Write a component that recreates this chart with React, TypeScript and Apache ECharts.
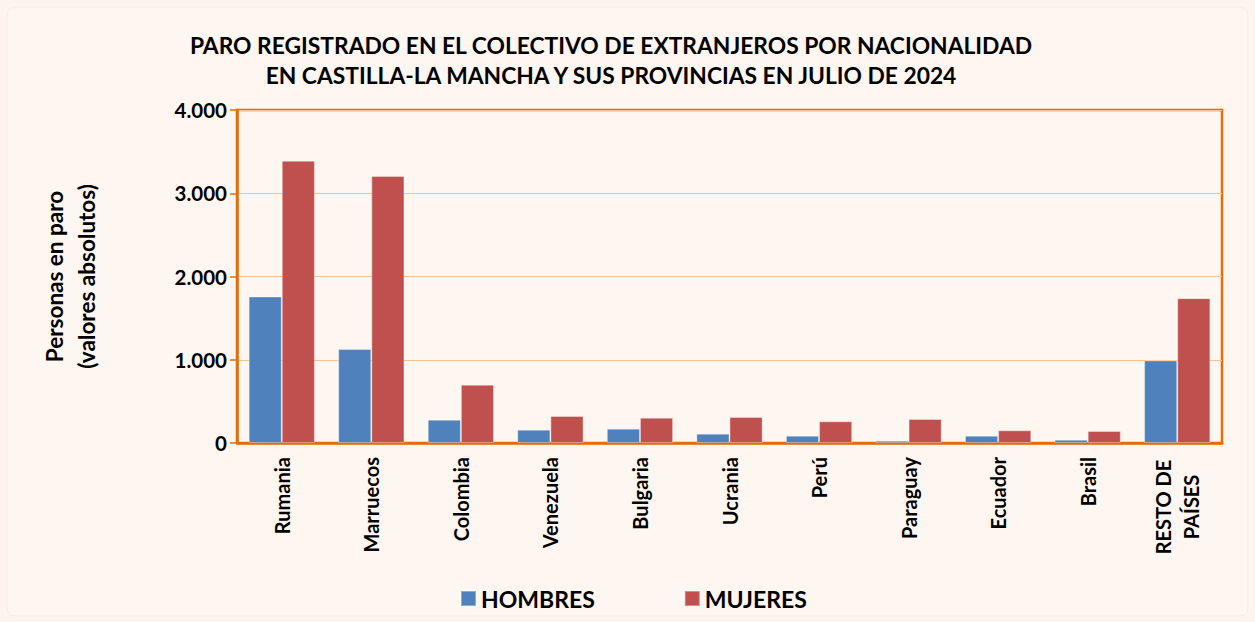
import React, { useEffect, useRef } from "react";
import * as echarts from "echarts";

const categories = ["Rumania", "Marruecos", "Colombia", "Venezuela", "Bulgaria", "Ucrania", "Perú", "Paraguay", "Ecuador", "Brasil", "RESTO DE\nPAÍSES"];
const hombres = [1760, 1128, 280, 160, 172, 112, 88, 28, 88, 40, 992];
const mujeres = [3390, 3208, 700, 324, 304, 312, 260, 288, 152, 144, 1740];
const titleLines = ["PARO REGISTRADO EN EL COLECTIVO DE EXTRANJEROS POR NACIONALIDAD", "EN CASTILLA-LA MANCHA Y SUS PROVINCIAS EN JULIO DE 2024"];
const yAxisName = "Personas en paro\n(valores absolutos)";

const FONT = "Lato";

export default function App() {
  const ref = useRef<HTMLDivElement>(null);
  useEffect(() => {
    document.body.style.margin = "0";
    const chart = echarts.init(ref.current!, null, { renderer: "svg" });
    chart.setOption({
      animation: false,
      backgroundColor: "#FDF4F0",
      textStyle: { fontFamily: FONT },
      graphic: [
        {
          type: "rect",
          shape: { x: 7, y: 7, width: 1241, height: 609, r: 8 },
          style: { fill: "#FEF6F0", stroke: "#F6ECE8", lineWidth: 1 },
          z: -10,
          silent: true,
        },
      ],
      title: {
        text: titleLines.join("\n"),
        left: 606,
        top: 25,
        textAlign: "center",
        textStyle: { fontFamily: FONT, fontWeight: "bold", fontSize: 22.8, color: "#000", lineHeight: 30 },
      },
      legend: {
        bottom: 7,
        left: 455,
        itemGap: 89,
        itemWidth: 15,
        itemHeight: 15,
        icon: "rect",
        textStyle: { fontFamily: FONT, fontWeight: "bold", fontSize: 23, color: "#000" },
        data: ["HOMBRES", "MUJERES"],
      },
      grid: {
        left: 237,
        right: 33,
        top: 110,
        height: 333,
        show: true,
        borderColor: "#E46C0A",
        borderWidth: 2.5,
        backgroundColor: "transparent",
      },
      xAxis: {
        type: "category",
        data: categories,
        axisLine: { show: true, lineStyle: { color: "#E46C0A", width: 2.5 } },
        axisTick: { show: false },
        axisLabel: {
          rotate: 90,
          margin: 14,
          interval: 0,
          fontFamily: FONT,
          fontWeight: "bold",
          fontSize: 20,
          color: "#000",
          formatter: (v: string) => (v.includes("\n") ? v.split("\n").map((s) => "{c|" + s + "}").join("\n") : v),
          rich: {
            c: { width: 100, align: "center", fontFamily: FONT, fontWeight: "bold", fontSize: 20, color: "#000", lineHeight: 28 },
          },
        },
      },
      yAxis: {
        type: "value",
        min: 0,
        max: 4000,
        interval: 1000,
        name: yAxisName,
        nameLocation: "middle",
        nameGap: 135,
        nameRotate: 90,
        nameTextStyle: { fontFamily: FONT, fontWeight: "bold", fontSize: 22.5, color: "#000", lineHeight: 32 },
        axisLine: { show: true, lineStyle: { color: "#E46C0A", width: 2.5 } },
        axisTick: { show: true, length: 7, lineStyle: { color: "#E46C0A", width: 1.5 } },
        axisLabel: {
          margin: 10,
          fontFamily: FONT,
          fontWeight: "bold",
          fontSize: 20.5,
          color: "#000",
          formatter: (v: number) => (v === 0 ? "0" : (v / 1000).toFixed(0) + ".000"),
        },
        splitLine: { show: true, lineStyle: { color: "#FAC090", width: 1 } },
      },
      series: [
        {
          name: "HOMBRES",
          type: "bar",
          data: hombres,
          barGap: "0%",
          barCategoryGap: "26%",
          itemStyle: { color: "#4F81BD", borderColor: "rgba(255,255,255,0.35)", borderWidth: 1 },
        },
        {
          name: "MUJERES",
          type: "bar",
          data: mujeres,
          barGap: "0%",
          barCategoryGap: "26%",
          itemStyle: { color: "#C0504D", borderColor: "rgba(255,255,255,0.35)", borderWidth: 1 },
        },
      ],
    });
    return () => chart.dispose();
  }, []);
  return <div ref={ref} style={{ position: "fixed", left: 0, top: 0, width: 1255, height: 622 }} />;
}
